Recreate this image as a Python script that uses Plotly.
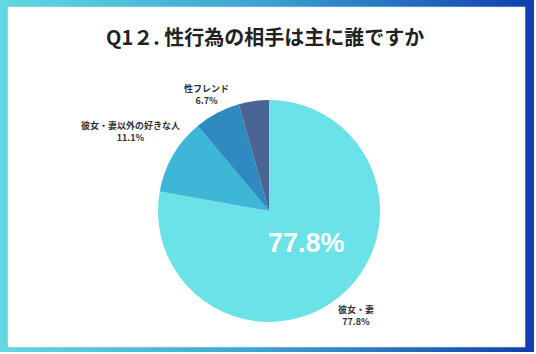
import base64
import plotly.graph_objects as go

# ---- data ----
labels = ["彼女・妻", "彼女・妻以外の好きな人", "性フレンド", "その他"]
values = [77.8, 11.1, 6.7, 4.4]
colors = ["#6ae2e8", "#3db6d8", "#2f8bbf", "#4a6594"]
title_text = "Q1２. 性行為の相手は主に誰ですか"
big_label = "77.8%"
outside_labels = [
    ("彼女・妻<br>77.8%", 356, 315),
    ("彼女・妻以外の好きな人<br>11.1%", 130, 131),
    ("性フレンド<br>6.7%", 206, 94),
]

W, H = 536, 354

svg = f'''<svg xmlns="http://www.w3.org/2000/svg" width="{W}" height="{H}" viewBox="0 0 {W} {H}">
<defs><linearGradient id="g" x1="0" y1="0" x2="1" y2="0">
<stop offset="0" stop-color="#62d8e2"/>
<stop offset="0.5" stop-color="#3aa2d2"/>
<stop offset="1" stop-color="#0f3eae"/>
</linearGradient></defs>
<rect x="0" y="0" width="534" height="352" fill="url(#g)"/>
<rect x="8" y="7" width="517" height="340" fill="#ffffff" stroke="#e4e4e4" stroke-width="0.6"/>
</svg>'''
src = "data:image/svg+xml;base64," + base64.b64encode(svg.encode()).decode()

cx, cy, r = 269, 211, 111
fig = go.Figure(go.Pie(
    labels=labels,
    values=values,
    textinfo="none",
    marker=dict(colors=colors, line=dict(width=0)),
    sort=False,
    direction="clockwise",
    rotation=0,
    hole=0,
    showlegend=False,
    hoverinfo="label+percent",
    domain=dict(x=[(cx - r) / W, (cx + r) / W], y=[(H - cy - r) / H, (H - cy + r) / H]),
))

fig.add_layout_image(dict(source=src, xref="paper", yref="paper", x=0, y=1,
                          sizex=1, sizey=1, xanchor="left", yanchor="top",
                          sizing="stretch", layer="below"))

fig.add_annotation(text="<b>" + title_text + "</b>", x=265 / W, y=1 - 37 / H,
                   xref="paper", yref="paper", showarrow=False,
                   xanchor="center", yanchor="middle",
                   font=dict(size=20, color="#222222", family="Noto Sans CJK JP"))

fig.add_annotation(text="<b>" + big_label + "</b>", x=306 / W, y=1 - 242.5 / H,
                   xref="paper", yref="paper", showarrow=False,
                   xanchor="center", yanchor="middle",
                   font=dict(size=27, color="white", family="Liberation Sans, Arial"))

for t, x, y in outside_labels:
    fig.add_annotation(text="<b>" + t + "</b>", x=x / W, y=1 - y / H,
                       xref="paper", yref="paper", showarrow=False,
                       xanchor="center", yanchor="middle",
                       font=dict(size=9, color="#333333", family="Noto Sans CJK JP"),
                       align="center")

fig.update_layout(width=W, height=H, margin=dict(l=0, r=0, t=0, b=0),
                  paper_bgcolor="white", plot_bgcolor="white")
fig.write_html("out.html")
